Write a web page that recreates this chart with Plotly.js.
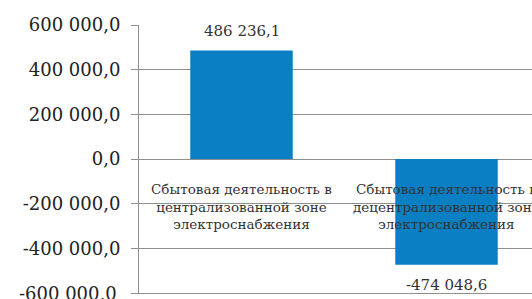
<!DOCTYPE html>
<html><head><meta charset="utf-8">
<script src="https://cdn.plot.ly/plotly-3.0.1.min.js"></script>
<style>html,body{margin:0;padding:0;overflow:hidden;width:532px;height:299px;background:#fff}</style>
</head><body><div id="chart" style="width:560px;height:299px"></div>
<script>
var categories = ["Сбытовая деятельность в<br>централизованной зоне<br>электроснабжения",
                  "Сбытовая деятельность в<br>децентрализованной зоне<br>электроснабжения"];
var values = [486236.1, -474048.6];
var yTickVals = [-600000, -400000, -200000, 0, 200000, 400000, 600000];
var yTickText = ["-600 000,0", "-400 000,0", "-200 000,0", "0,0", "200 000,0", "400 000,0", "600 000,0"];
var catKeys = ["c1", "c2"];

function fmt(v) {
  var s = Math.abs(v).toFixed(1).split(".");
  var intPart = s[0].replace(/\B(?=(\d{3})+(?!\d))/g, " ");
  return (v < 0 ? "-" : "") + intPart + "," + s[1];
}

var SERIF = "'DejaVu Serif'";
var trace = {
  type: "bar", x: catKeys, y: values,
  marker: {color: "#0b7fc3"},
  hoverinfo: "none"
};
var annotations = catKeys.map(function(k, i){
  return {x: k, y: 0, xref: "x", yref: "y", text: categories[i], showarrow: false,
    yanchor: "top", yshift: -20, font: {family: SERIF, size: 13.5, color: "#333"}};
});
values.forEach(function(v, i){
  annotations.push({x: catKeys[i], y: v, xref: "x", yref: "y", text: fmt(v), showarrow: false,
    yanchor: "middle", yshift: v >= 0 ? 19 : -20, font: {family: SERIF, size: 15, color: "#333"}});
});
// bottom tick label (Plotly hides labels that overflow the figure)
annotations.push({x: 0, xref: "paper", xanchor: "right", xshift: -20, y: yTickVals[0], yref: "y",
  yanchor: "middle", text: yTickText[0], showarrow: false,
  font: {family: SERIF, size: 18, color: "#222"}});
var layout = {
  width: 560, height: 299,
  margin: {l: 139, r: 11, t: 25, b: 6},
  paper_bgcolor: "#fff", plot_bgcolor: "#fff",
  showlegend: false, bargap: 0.5,
  xaxis: {showticklabels: false, showgrid: false, zeroline: false, ticks: "",
    showline: true, linecolor: "#8f8f8f", linewidth: 1},
  yaxis: {range: [-600000, 600000], tickmode: "array", tickvals: yTickVals,
    ticktext: yTickText.map(function(t, i){ return i === 0 ? "" : t; }),
    showgrid: true, gridcolor: "#8f8f8f", gridwidth: 1,
    zeroline: true, zerolinecolor: "#8f8f8f", zerolinewidth: 1,
    showline: true, linecolor: "#8f8f8f", linewidth: 1,
    ticks: "outside", ticklen: 7, tickcolor: "#8f8f8f", ticklabelstandoff: 7,
    tickfont: {family: SERIF, size: 18, color: "#222"}},
  annotations: annotations
};
Plotly.newPlot("chart", [trace], layout, {staticPlot: true});
</script></body></html>
